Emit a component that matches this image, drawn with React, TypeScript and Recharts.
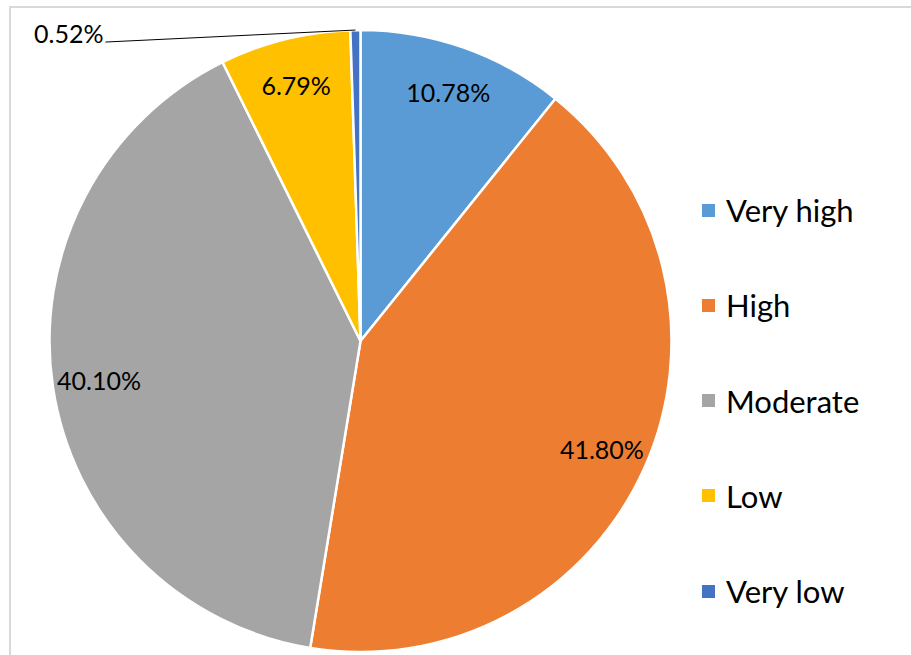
import React from 'react';
import { PieChart, Pie, Cell, Legend } from 'recharts';

const categories = ['Very high', 'High', 'Moderate', 'Low', 'Very low'];
const shares = [10.78, 41.8, 40.1, 6.79, 0.52];
const colors = ['#5B9BD5', '#ED7D31', '#A5A5A5', '#FFC000', '#4472C4'];

const data = categories.map((name, i) => ({ name, value: shares[i] }));

const RADIAN = Math.PI / 180;
const FONT = 'Lato, "Open Sans", sans-serif';

const renderLabel = (props: any) => {
  const { cx, cy, midAngle, outerRadius, percent, index } = props;
  const text = `${shares[index].toFixed(2)}%`;

  // tiny slice: label outside with a leader line, like Excel's best fit
  if (percent < 0.02) {
    const sx = cx + outerRadius * Math.cos(-midAngle * RADIAN);
    const sy = cy + outerRadius * Math.sin(-midAngle * RADIAN);
    const ex = cx - outerRadius * 0.82;
    const ey = sy + 12;
    return (
      <g>
        <path d={`M${sx},${sy}L${ex},${ey}`} stroke="#000" strokeWidth={1} fill="none" />
        <text
          x={ex - 2}
          y={ey - 9}
          textAnchor="end"
          dominantBaseline="central"
          fill="#000"
          fontFamily={FONT}
          fontSize={25}
        >
          {text}
        </text>
      </g>
    );
  }

  const r = outerRadius * 0.85;
  const x = cx + r * Math.cos(-midAngle * RADIAN);
  const y = cy + r * Math.sin(-midAngle * RADIAN);
  return (
    <text
      x={x}
      y={y}
      textAnchor="middle"
      dominantBaseline="central"
      fill="#000"
      fontFamily={FONT}
      fontSize={25}
    >
      {text}
    </text>
  );
};

const renderLegend = (props: any) => {
  // keep the data order, not the legend's default alphabetical sort
  const payload = [...(props.payload || [])].sort(
    (a: any, b: any) => categories.indexOf(a.value) - categories.indexOf(b.value)
  );
  return (
    <div style={{ position: 'relative' }}>
      {payload.map((entry: any, i: number) => (
        <div
          key={i}
          style={{
            position: 'absolute',
            left: 0,
            top: i * 95.3 - 20,
            height: 40,
            display: 'flex',
            alignItems: 'center',
            whiteSpace: 'nowrap',
          }}
        >
          <span
            style={{
              display: 'inline-block',
              width: 13,
              height: 13,
              background: entry.color,
              marginRight: 11,
            }}
          />
          <span style={{ fontFamily: FONT, fontSize: 31, color: '#000' }}>{entry.value}</span>
        </div>
      ))}
    </div>
  );
};

const App: React.FC = () => {
  return (
    <div
      style={{
        position: 'fixed',
        left: 0,
        top: 0,
        width: 911,
        height: 655,
        overflow: 'hidden',
        background: '#fff',
      }}
    >
      {/* chart frame, cropped at right and bottom */}
      <div
        style={{
          position: 'absolute',
          left: 9,
          top: 6,
          width: 1000,
          height: 1000,
          border: '2px solid #D9D9D9',
        }}
      />
      <div style={{ position: 'absolute', left: 0, top: 0 }}>
        <PieChart width={911} height={655} margin={{ top: 0, right: 0, bottom: 0, left: 0 }}>
          <Pie
            data={data}
            dataKey="value"
            nameKey="name"
            cx={360.5}
            cy={341}
            outerRadius={311}
            startAngle={90}
            endAngle={-270}
            stroke="#fff"
            strokeWidth={2.5}
            label={renderLabel}
            labelLine={false}
            isAnimationActive={false}
          >
            {data.map((entry, i) => (
              <Cell key={entry.name} fill={colors[i]} />
            ))}
          </Pie>
          <Legend
            layout="vertical"
            align="right"
            verticalAlign="middle"
            content={renderLegend}
            wrapperStyle={{ left: 702, top: 210, right: 'auto', width: 200, height: 400 }}
          />
        </PieChart>
      </div>
    </div>
  );
};

export default App;
